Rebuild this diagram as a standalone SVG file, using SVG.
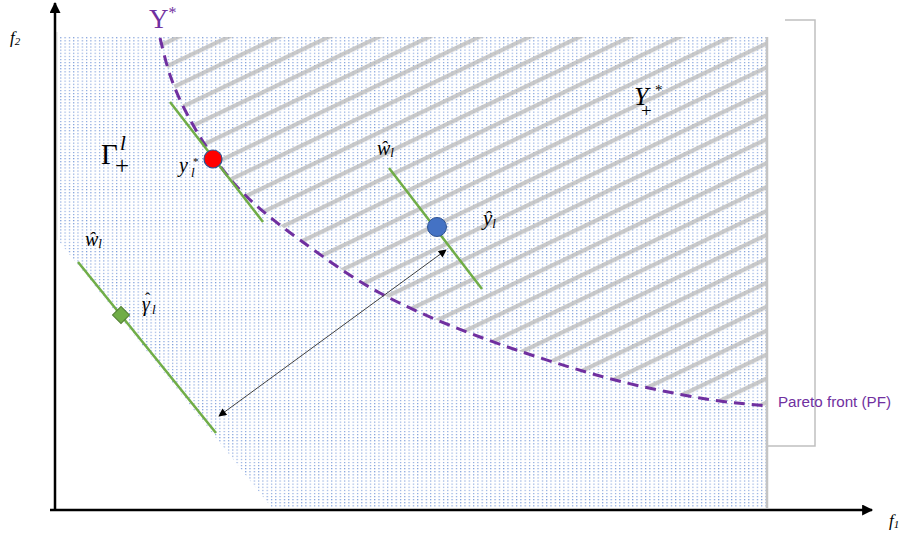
<svg xmlns="http://www.w3.org/2000/svg" width="907" height="533" viewBox="0 0 907 533">
  <style>
    .math { font-family: "Liberation Serif", "DejaVu Serif", serif; fill: #000; }
    .it { font-style: italic; }
    .purple { fill: #7030a0; }
    .green { stroke: #70ad47; stroke-width: 2.5; fill: none; }
    .axis { stroke: #000; stroke-width: 2.5; fill: none; }
  </style>
  <defs>
    <pattern id="dots" patternUnits="userSpaceOnUse" width="4.3" height="3.1">
      <rect x="0" y="0" width="1.2" height="1.1" fill="#4a78cc" fill-opacity="0.75"/>
    </pattern>
    <pattern id="hatch" patternUnits="userSpaceOnUse" width="40" height="21.6" patternTransform="rotate(-25.5)">
      <rect x="0" y="0" width="40" height="4.2" fill="#b8b8b8" fill-opacity="0.75"/>
    </pattern>
    <marker id="ah" viewBox="0 0 10 10" refX="9" refY="5" markerWidth="10" markerHeight="8" markerUnits="userSpaceOnUse" orient="auto-start-reverse">
      <path d="M0,0 L10,5 L0,10 Z" fill="#000"/>
    </marker>
    <marker id="axh" viewBox="0 0 10 10" refX="9" refY="5" markerWidth="14" markerHeight="11" markerUnits="userSpaceOnUse" orient="auto">
      <path d="M0,0 L10,5 L0,10 Z" fill="#000"/>
    </marker>
  </defs>

  <g id="region-dotted">
    <polygon points="58,37 767,37 767,508 272,508 58,240" fill="url(#dots)"/>
    <line x1="57" y1="32" x2="57" y2="240" stroke="#dcdcdc" stroke-width="1"/>
  </g>

  <g id="region-hatched">
    <path d="M160,37 L160,38 C161.7,44.2 165.7,62.7 170,75 C174.3,87.3 179.3,99.2 186,112 C192.7,124.8 200.2,138.2 210,152 C219.8,165.8 230,180.3 245,195 C260,209.7 277.5,223.7 300,240 C322.5,256.3 350,276.8 380,293 C410,309.2 443.3,323.2 480,337 C516.7,350.8 563.3,365.8 600,376 C636.7,386.2 672,393 700,398 C728,403 756.7,404.7 767,406 L767,37 Z" fill="url(#hatch)"/>
    <line x1="767" y1="37" x2="767" y2="508" stroke="#c4c4c4" stroke-width="2.5"/>
  </g>

  <g id="frame-box">
    <polyline points="785,20 815,20 815,446 768,446" fill="none" stroke="#c0c0c0" stroke-width="1.5"/>
  </g>

  <g id="pareto-front">
    <path d="M160,38 C161.7,44.2 165.7,62.7 170,75 C174.3,87.3 179.3,99.2 186,112 C192.7,124.8 200.2,138.2 210,152 C219.8,165.8 230,180.3 245,195 C260,209.7 277.5,223.7 300,240 C322.5,256.3 350,276.8 380,293 C410,309.2 443.3,323.2 480,337 C516.7,350.8 563.3,365.8 600,376 C636.7,386.2 672,393 700,398 C728,403 756.7,404.7 767,406" fill="none" stroke="#7030a0" stroke-width="3" stroke-dasharray="11,7"/>
    <text x="778" y="407" font-family="'Liberation Sans', Arial, sans-serif" font-size="14" textLength="113" lengthAdjust="spacingAndGlyphs" class="purple">Pareto front (PF)</text>
    <text x="149" y="28" class="math purple" font-size="27">Y<tspan font-size="16" dy="-10">*</tspan></text>
  </g>

  <g id="axes">
    <line x1="55" y1="511" x2="55" y2="3" class="axis" marker-end="url(#axh)"/>
    <line x1="50" y1="510" x2="872" y2="510" class="axis" marker-end="url(#axh)"/>
    <text x="10" y="43" class="math it" font-size="17">f<tspan font-size="11" dy="2">2</tspan></text>
    <text x="889" y="526" class="math it" font-size="17">f<tspan font-size="11" dy="2">1</tspan></text>
  </g>

  <g id="label-gamma">
    <text x="101" y="164" class="math" font-size="29">Γ<tspan x="120" y="150" font-style="italic" font-size="21">l</tspan><tspan x="115" y="174" font-size="25">+</tspan></text>
  </g>

  <g id="label-yplus">
    <text x="634" y="105" class="math it" font-size="26">Y<tspan x="655" y="95" font-style="normal" font-size="15">*</tspan><tspan x="641" y="117" font-style="normal" font-size="19">+</tspan></text>
  </g>

  <g id="node-ystar">
    <line x1="170" y1="102" x2="263" y2="222" class="green"/>
    <circle cx="213" cy="159" r="9" fill="#ff0000" stroke="#2f528f" stroke-width="1.2"/>
    <text x="179" y="172" class="math it" font-size="20">y<tspan x="191" y="177" font-size="13">l</tspan><tspan x="193" y="165" font-style="normal" font-size="11">*</tspan></text>
  </g>

  <g id="node-yhat">
    <line x1="389" y1="168" x2="482" y2="289" class="green"/>
    <circle cx="437" cy="227" r="9.5" fill="#4472c4" stroke="#2f528f" stroke-width="1"/>
    <text x="377" y="155" class="math it" font-size="20">ŵ<tspan font-size="13" dy="2">l</tspan></text>
    <text x="483" y="225" class="math it" font-size="21">ŷ<tspan font-size="13" dy="3">l</tspan></text>
  </g>

  <g id="node-gammahat">
    <line x1="78" y1="262" x2="216" y2="433" class="green"/>
    <rect x="-6" y="-6" width="12" height="12" transform="translate(121,315) rotate(45)" fill="#70ad47" stroke="#507e32" stroke-width="1"/>
    <text x="85" y="246" class="math it" font-size="20">ŵ<tspan font-size="13" dy="2">l</tspan></text>
    <text x="142" y="311" class="math it" font-size="20">γ<tspan x="145" y="304" font-style="normal" font-size="16">ˆ</tspan><tspan x="152" y="314" font-size="13">l</tspan></text>
  </g>

  <g id="connectors">
    <line x1="219" y1="416" x2="446" y2="250" stroke="#404040" stroke-width="1" marker-start="url(#ah)" marker-end="url(#ah)"/>
  </g>
</svg>
